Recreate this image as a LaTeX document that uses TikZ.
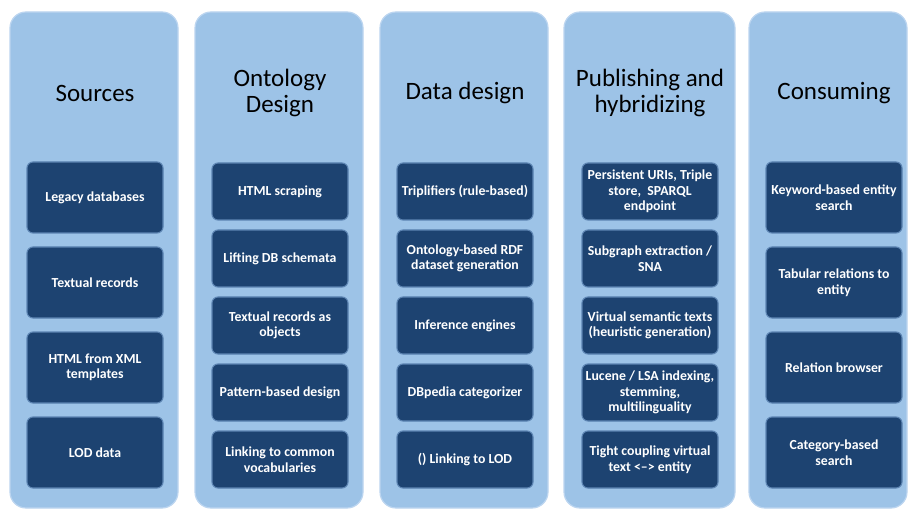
\documentclass[tikz,border=0pt]{standalone}
\usepackage{fontspec}
\setmainfont{Carlito}
\definecolor{colfill}{RGB}{157,195,231}
\definecolor{coledge}{RGB}{188,213,240}
\definecolor{boxfill}{RGB}{29,67,113}
\definecolor{boxedge}{RGB}{92,132,178}
\tikzset{
  colbox/.style={fill=colfill, draw=coledge, line width=1.2pt, rounded corners=16pt},
  coltitle/.style={text=black, font=\fontsize{25}{25.5}\selectfont, align=center},
  dbox/.style={fill=boxfill, draw=boxedge, line width=1.1pt, rounded corners=6pt,
    minimum width=136pt, inner sep=0pt, text=white, align=center,
    font=\bfseries\fontsize{13.8}{15.5}\selectfont},
  tallbox/.style={dbox, minimum height=71pt},
  shortbox/.style={dbox, minimum height=57pt}
}
\begin{document}
\begin{tikzpicture}[x=1pt,y=-1pt]
\useasboundingbox (0,0) rectangle (912,510);
\fill[white] (0,0) rectangle (912,510);
% columns
\draw[colbox] (10,12) rectangle (178,508);
\draw[colbox] (195,12) rectangle (363,508);
\draw[colbox] (380,12) rectangle (548,508);
\draw[colbox] (564,12) rectangle (735,508);
\draw[colbox] (749,12) rectangle (907,508);
% titles
\node[coltitle] (t1) at (95,93) {Sources};
\node[coltitle] (t2) at (280,93) {Ontology\\Design};
\node[coltitle] (t3) at (465,93) {Data design};
\node[coltitle] (t4) at (650,93) {Publishing and\\hybridizing};
\node[coltitle] (t5) at (834,93) {Consuming};
% column 1
\node[tallbox] (a1) at (95,197.5) {Legacy databases};
\node[tallbox] (a2) at (95,282.5) {Textual records};
\node[tallbox] (a3) at (95,367.5) {HTML from XML\\templates};
\node[tallbox] (a4) at (95,452.5) {LOD data};
% column 2
\node[shortbox] (b1) at (280,191.5) {HTML scraping};
\node[shortbox] (b2) at (280,258.5) {Lifting DB schemata};
\node[shortbox] (b3) at (280,325.5) {Textual records as\\objects};
\node[shortbox] (b4) at (280,392.5) {Pattern-based design};
\node[shortbox] (b5) at (280,459.5) {Linking to common\\vocabularies};
% column 3
\node[shortbox] (c1) at (465,191.5) {Triplifiers (rule-based)};
\node[shortbox] (c2) at (465,258.5) {Ontology-based RDF\\dataset generation};
\node[shortbox] (c3) at (465,325.5) {Inference engines};
\node[shortbox] (c4) at (465,392.5) {DBpedia categorizer};
\node[shortbox] (c5) at (465,459.5) {() Linking to LOD};
% column 4
\node[shortbox] (d1) at (650,191.5) {Persistent URIs, Triple\\store,~ SPARQL\\endpoint};
\node[shortbox] (d2) at (650,258.5) {Subgraph extraction /\\SNA};
\node[shortbox] (d3) at (650,325.5) {Virtual semantic texts\\(heuristic generation)};
\node[shortbox] (d4) at (650,392.5) {Lucene / LSA indexing,\\stemming,\\multilinguality};
\node[shortbox] (d5) at (650,459.5) {Tight coupling virtual\\text <--> entity};
% column 5
\node[tallbox] (e1) at (834,197.5) {Keyword-based entity\\search};
\node[tallbox] (e2) at (834,282.5) {Tabular relations to\\entity};
\node[tallbox] (e3) at (834,367.5) {Relation browser};
\node[tallbox] (e4) at (834,452.5) {Category-based\\search};
\end{tikzpicture}
\end{document}
